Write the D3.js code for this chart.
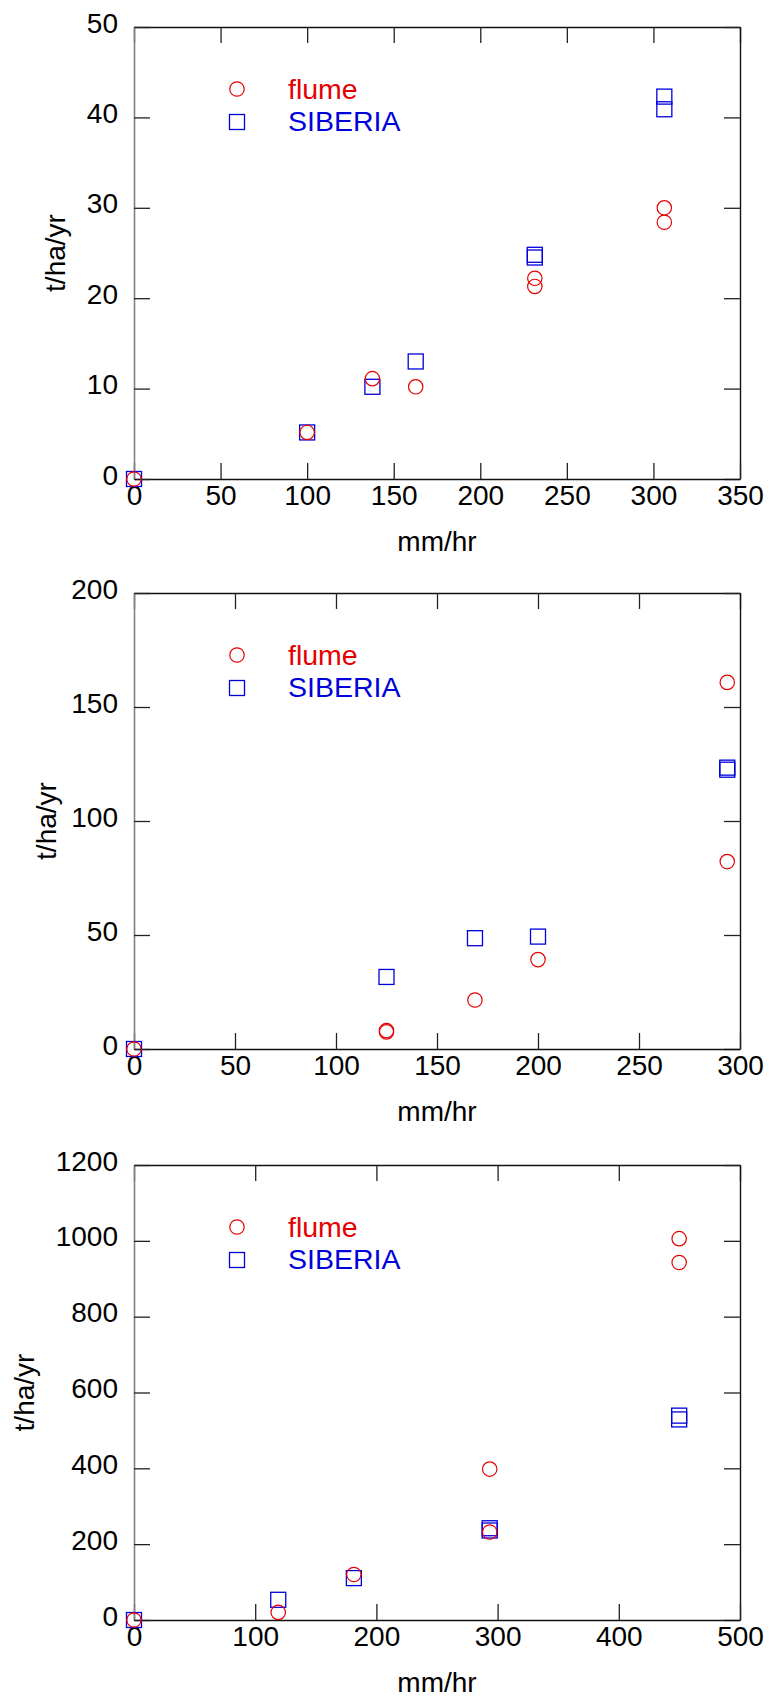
<!DOCTYPE html>
<html>
<head>
<meta charset="utf-8">
<script src="https://cdn.jsdelivr.net/npm/d3@7"></script>
<style>
  html, body { margin: 0; padding: 0; background: #fff; }
  svg { display: block; }
  text { font-family: "Liberation Sans", Arial, Helvetica, sans-serif; }
</style>
</head>
<body>
<svg id="chart" width="769" height="1697"></svg>
<script>
// ---------- DATA ----------
const seriesNames = ["flume", "SIBERIA"];
const xTitle = "mm/hr";
const yTitle = "t/ha/yr";

// Panel 1
const p1XTicks = [0, 50, 100, 150, 200, 250, 300, 350];
const p1YTicks = [0, 10, 20, 30, 40, 50];
const p1FlumeX = [0, 100, 137.7, 162.7, 231.5, 231.5, 306.3, 306.3];
const p1FlumeY = [0, 5.15, 11.1, 10.2, 22.2, 21.3, 30.0, 28.4];
const p1SiberiaX = [0, 100, 137.7, 162.7, 231.5, 231.5, 306.3, 306.3];
const p1SiberiaY = [0, 5.15, 10.2, 13.0, 24.5, 24.8, 42.3, 40.9];

// Panel 2
const p2XTicks = [0, 50, 100, 150, 200, 250, 300];
const p2YTicks = [0, 50, 100, 150, 200];
const p2FlumeX = [0, 125, 125, 168.8, 200, 293.7, 293.7];
const p2FlumeY = [0, 7.5, 8.1, 21.5, 39.2, 160.8, 82.2];
const p2SiberiaX = [0, 125, 168.8, 200, 293.7, 293.7];
const p2SiberiaY = [0, 31.6, 48.6, 49.3, 122.5, 123.4];

// Panel 3
const p3XTicks = [0, 100, 200, 300, 400, 500];
const p3YTicks = [0, 200, 400, 600, 800, 1000, 1200];
const p3FlumeX = [0, 119, 181.4, 293.5, 293.5, 449.8, 449.8];
const p3FlumeY = [0, 20, 120, 398, 232, 1005.7, 942.9];
const p3SiberiaX = [0, 119, 181.4, 293.5, 293.5, 449.8, 449.8];
const p3SiberiaY = [0, 53.3, 110.5, 236, 242, 529, 539];

// ---------- LAYOUT (positions & styles) ----------
const layout = [
  { top: 27, bottom: 479, titleX: 56 },
  { top: 593, bottom: 1049, titleX: 47 },
  { top: 1165, bottom: 1620, titleX: 25 }
];
const left = 134, right = 740;
const red = "#e60000", blue = "#0000dc";
const tickFont = 28, titleFont = 28, legendFont = 28.5;
const fmt = d3.format("d");

const panels = [
  { xTicks: p1XTicks, yTicks: p1YTicks, fx: p1FlumeX, fy: p1FlumeY, sx: p1SiberiaX, sy: p1SiberiaY },
  { xTicks: p2XTicks, yTicks: p2YTicks, fx: p2FlumeX, fy: p2FlumeY, sx: p2SiberiaX, sy: p2SiberiaY },
  { xTicks: p3XTicks, yTicks: p3YTicks, fx: p3FlumeX, fy: p3FlumeY, sx: p3SiberiaX, sy: p3SiberiaY }
];

const svg = d3.select("#chart");

panels.forEach((p, i) => {
  const L = layout[i];
  const x = d3.scaleLinear()
    .domain([p.xTicks[0], p.xTicks[p.xTicks.length - 1]])
    .range([left, right]);
  const y = d3.scaleLinear()
    .domain([p.yTicks[0], p.yTicks[p.yTicks.length - 1]])
    .range([L.bottom, L.top]);

  const g = svg.append("g");

  const gTop = g.append("g").attr("transform", `translate(0,${L.top})`)
    .call(d3.axisTop(x).tickValues(p.xTicks).tickSize(-16).tickSizeOuter(0).tickFormat(""));
  const gRight = g.append("g").attr("transform", `translate(${right},0)`)
    .call(d3.axisRight(y).tickValues(p.yTicks).tickSize(-16).tickSizeOuter(0).tickFormat(""));
  const gBottom = g.append("g").attr("transform", `translate(0,${L.bottom})`)
    .call(d3.axisBottom(x).tickValues(p.xTicks).tickSize(-16).tickSizeOuter(0).tickPadding(6).tickFormat(fmt));
  const gLeft = g.append("g").attr("transform", `translate(${left},0)`)
    .call(d3.axisLeft(y).tickValues(p.yTicks).tickSize(-16).tickSizeOuter(0).tickPadding(16).tickFormat(fmt));

  [gTop, gRight, gBottom, gLeft].forEach(a => {
    a.selectAll(".tick line").attr("stroke", "#222").attr("stroke-width", 1.3);
    a.select(".domain").attr("stroke", "#111").attr("stroke-width", 1.4);
    a.selectAll("text")
      .attr("fill", "#000")
      .style("font-size", tickFont + "px")
      .style("font-family", '"Liberation Sans", Arial, sans-serif');
  });
  gLeft.select(".domain").attr("stroke", "#808080").attr("stroke-width", 1.6);
  gLeft.selectAll("text").attr("dy", "5px");

  g.append("text")
    .attr("x", (left + right) / 2)
    .attr("y", L.bottom + 72)
    .attr("text-anchor", "middle")
    .style("font-size", titleFont + "px")
    .attr("fill", "#000")
    .text(xTitle);
  g.append("text")
    .attr("transform", `translate(${L.titleX + 9},${(L.top + L.bottom) / 2}) rotate(-90)`)
    .attr("text-anchor", "middle")
    .style("font-size", titleFont + "px")
    .attr("fill", "#000")
    .text(yTitle);

  const sData = p.sx.map((v, k) => [v, p.sy[k]]);
  g.append("g").selectAll("rect").data(sData).join("rect")
    .attr("x", d => x(d[0]) - 7.5)
    .attr("y", d => y(d[1]) - 7.5)
    .attr("width", 15).attr("height", 15)
    .attr("fill", "none").attr("stroke", blue).attr("stroke-width", 1.3);

  const fData = p.fx.map((v, k) => [v, p.fy[k]]);
  g.append("g").selectAll("circle").data(fData).join("circle")
    .attr("cx", d => x(d[0]))
    .attr("cy", d => y(d[1]))
    .attr("r", 7.2)
    .attr("fill", "none").attr("stroke", red).attr("stroke-width", 1.2);

  const lg = g.append("g");
  lg.append("circle").attr("cx", 237).attr("cy", L.top + 62).attr("r", 7.2)
    .attr("fill", "none").attr("stroke", red).attr("stroke-width", 1.2);
  lg.append("text").attr("x", 288).attr("y", L.top + 72)
    .style("font-size", legendFont + "px").attr("fill", red).text(seriesNames[0]);
  lg.append("rect").attr("x", 237 - 7.5).attr("y", L.top + 95 - 7.5)
    .attr("width", 15).attr("height", 15)
    .attr("fill", "none").attr("stroke", blue).attr("stroke-width", 1.3);
  lg.append("text").attr("x", 288).attr("y", L.top + 104)
    .style("font-size", legendFont + "px").attr("fill", blue).text(seriesNames[1]);
});
</script>
</body>
</html>
